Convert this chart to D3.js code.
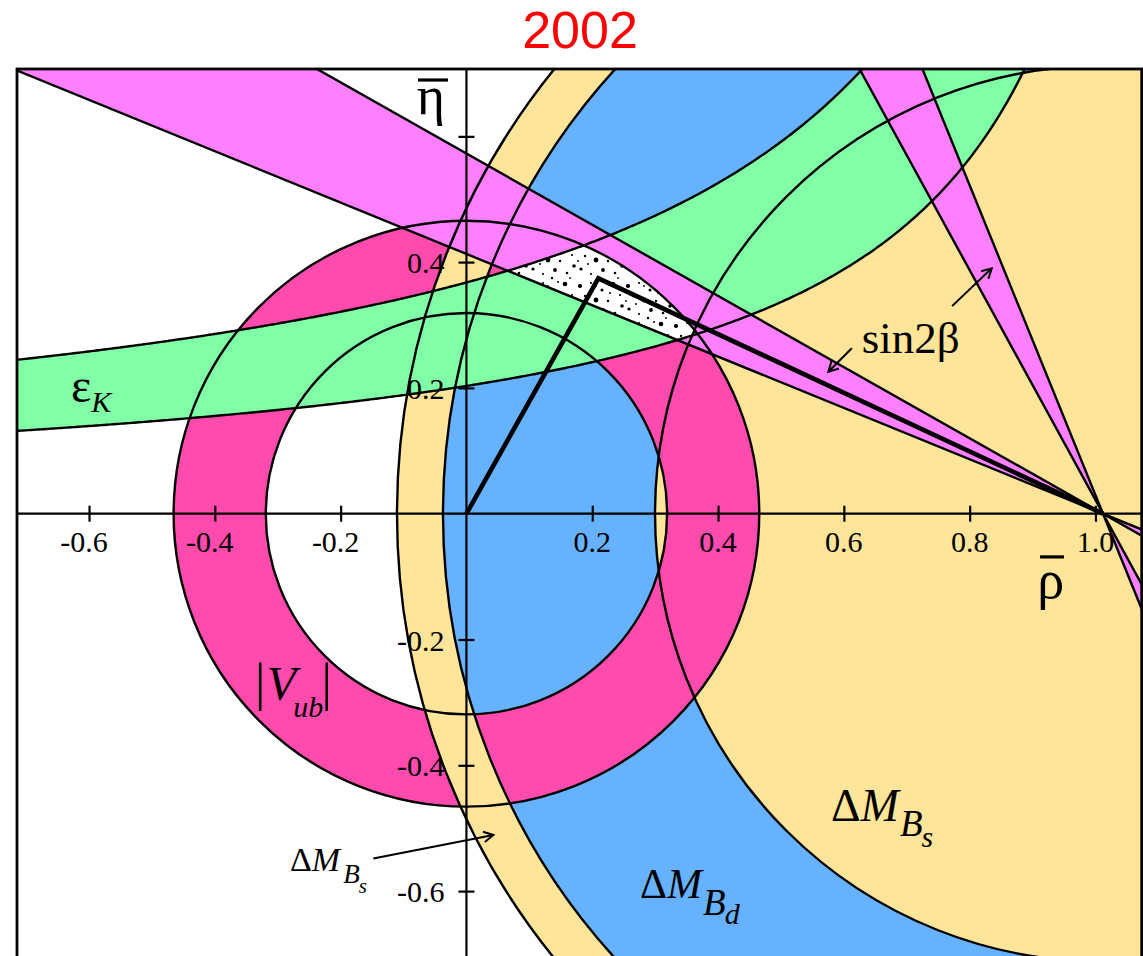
<!DOCTYPE html>
<html>
<head>
<meta charset="utf-8">
<script src="https://cdn.jsdelivr.net/npm/d3@7"></script>
<style>
  html, body { margin: 0; padding: 0; background: #fff; }
  svg { display: block; }
</style>
</head>
<body>
<svg id="chart" width="1143" height="956"></svg>
<script>
// ---- Constraints in the (rho-bar, eta-bar) plane ----
const title = "2002";
const xTicks = [-0.6, -0.4, -0.2, 0.2, 0.4, 0.6, 0.8, 1.0];
const xTickLabels = ["-0.6", "-0.4", "-0.2", "0.2", "0.4", "0.6", "0.8", "1.0"];
const yTicks = [-0.6, -0.4, -0.2, 0.2, 0.4, 0.6];
const yTickLabels = ["-0.6", "-0.4", "-0.2", "0.2", "0.4", ""];

const apex = [1.012, 0];              // the (1,0) corner where the Rt circles are centred
const vubRadii = [0.319, 0.4655];     // |Vub/Vcb| annulus around (0,0)
const dmdRadii = [0.7122, 1.0493];    // Delta M_Bd annulus around the apex
const dmsRadius = [1.1224];           // Delta M_Bs bound around the apex
const sin2bShallowDeg = [22.2, 29.5]; // sin2beta wedge, small-beta solution
const sin2bSteepDeg = [61.3, 67.9];   // sin2beta wedge, large-beta solution
// eps_K band edges: eta = c + k / (a - rho), given as [c, k, a]
const epsKLower = [0.0086, 0.2393, 1.23];
const epsKUpper = [0.0278, 0.4282, 1.26];
const triangle = [[0, 0], [0.2097, 0.3742], [1.012, 0]];

const xExtent = [-0.7145, 1.0735];
const yExtent = [-0.7135, 0.707];

// ---- Layout ----
const colors = {
  dms: "#FFE599", dmd: "#66B2FF", vub: "#FF4AAE",
  eps: "#80FFA6", s2b: "#FF80FF"
};
const serif = "'Liberation Serif', 'Times New Roman', serif";

const svg = d3.select("#chart");
const x = d3.scaleLinear().domain(xExtent).range([17, 1141.7]);
const y = d3.scaleLinear().domain(yExtent).range([962.5, 69]);
const pxPerUnit = x(1) - x(0);

const defs = svg.append("defs");

function circlePath(c, r) {
  const p = d3.path();
  const cx = x(c[0]), cy = y(c[1]), rr = r * pxPerUnit;
  p.moveTo(cx + rr, cy);
  p.arc(cx, cy, rr, 0, 2 * Math.PI);
  p.closePath();
  return p.toString();
}
function ringPath(c, r0, r1) {
  return circlePath(c, r1) + circlePath(c, r0);
}

const lineGen = d3.line().x(d => x(d[0])).y(d => y(d[1]));

function hyperbola(p) {
  const pts = [];
  for (let r = xExtent[0] - 0.05; r < p[2] - 0.005; r += 0.004) {
    const e = p[0] + p[1] / (p[2] - r);
    pts.push([r, e]);
    if (e > yExtent[1] + 0.08) break;
  }
  return pts;
}
const epsUpperPts = hyperbola(epsKUpper);
const epsLowerPts = hyperbola(epsKLower);
const epsBand = epsUpperPts.concat(epsLowerPts.slice().reverse());

const L = 4;
function dir(deg) {
  const t = deg * Math.PI / 180;
  return [-Math.cos(t), Math.sin(t)];
}
function wedgeCones(angles) {
  const d1 = dir(angles[0]), d2 = dir(angles[1]);
  const up = [apex, [apex[0] + L * d1[0], apex[1] + L * d1[1]], [apex[0] + L * d2[0], apex[1] + L * d2[1]]];
  const down = [apex, [apex[0] - L * d1[0], apex[1] - L * d1[1]], [apex[0] - L * d2[0], apex[1] - L * d2[1]]];
  return [up, down];
}
function fullLine(deg) {
  const d = dir(deg);
  return [[apex[0] - L * d[0], apex[1] - L * d[1]], [apex[0] + L * d[0], apex[1] + L * d[1]]];
}
const polyPath = pts => lineGen(pts) + "Z";

// clip paths
const frameW = x(xExtent[1]) - x(xExtent[0]);
const frameH = y(yExtent[0]) - y(yExtent[1]);
defs.append("clipPath").attr("id", "clipFrame")
  .append("rect").attr("x", x(xExtent[0])).attr("y", y(yExtent[1]))
  .attr("width", frameW).attr("height", frameH);
defs.append("clipPath").attr("id", "clipEps")
  .append("path").attr("d", polyPath(epsBand));
defs.append("clipPath").attr("id", "clipWedge")
  .append("path").attr("d", polyPath(wedgeCones(sin2bShallowDeg)[0]));
defs.append("clipPath").attr("id", "clipVub")
  .append("path").attr("clip-rule", "evenodd").attr("d", ringPath([0, 0], vubRadii[0], vubRadii[1]));
defs.append("clipPath").attr("id", "clipDmd")
  .append("path").attr("clip-rule", "evenodd").attr("d", ringPath(apex, dmdRadii[0], dmdRadii[1]));

// stipple for the region allowed by every constraint
const dots = [[4, 6, 2.1], [15, 3, 1.1], [26, 10, 1.5], [37, 4, 2.3], [44, 15, 1.1], [9, 16, 1.2],
  [20, 20, 2.4], [32, 21, 1.2], [5, 29, 1.6], [15, 34, 1.1], [27, 30, 1.9], [39, 33, 1.3],
  [46, 26, 1.8], [12, 24, 1.0], [34, 13, 1.0], [24, 38, 1.2], [20, 6, 0.9], [42, 38, 0.9],
  [30, 2, 1.0], [2, 21, 0.9]];
const pat = defs.append("pattern").attr("id", "dots").attr("patternUnits", "userSpaceOnUse")
  .attr("width", 48).attr("height", 40);
pat.selectAll("circle").data(dots).join("circle")
  .attr("cx", d => d[0]).attr("cy", d => d[1]).attr("r", d => d[2]).attr("fill", "#000");

// ---- Filled regions ----
const fills = svg.append("g").attr("clip-path", "url(#clipFrame)");
fills.append("path").attr("d", circlePath(apex, dmsRadius[0])).attr("fill", colors.dms);
fills.append("path").attr("d", ringPath(apex, dmdRadii[0], dmdRadii[1]))
  .attr("fill-rule", "evenodd").attr("fill", colors.dmd);
fills.append("path").attr("d", ringPath([0, 0], vubRadii[0], vubRadii[1]))
  .attr("fill-rule", "evenodd").attr("fill", colors.vub);
fills.append("path").attr("d", ringPath(apex, dmdRadii[1], dmsRadius[0]))
  .attr("fill-rule", "evenodd").attr("fill", colors.dms);
fills.append("path").attr("d", polyPath(epsBand)).attr("fill", colors.eps);
[sin2bShallowDeg, sin2bSteepDeg].forEach(a => {
  wedgeCones(a).forEach(poly => {
    fills.append("path").attr("d", polyPath(poly)).attr("fill", colors.s2b);
  });
});

let allowed = svg.append("g").attr("clip-path", "url(#clipFrame)");
["clipEps", "clipWedge", "clipVub", "clipDmd"].forEach(id => {
  allowed = allowed.append("g").attr("clip-path", `url(#${id})`);
});
allowed.append("rect").attr("x", x(xExtent[0])).attr("y", y(yExtent[1]))
  .attr("width", frameW).attr("height", frameH).attr("fill", "#fff");
allowed.append("rect").attr("x", x(xExtent[0])).attr("y", y(yExtent[1]))
  .attr("width", frameW).attr("height", frameH).attr("fill", "url(#dots)");

// ---- Boundary curves ----
const edges = svg.append("g").attr("clip-path", "url(#clipFrame)")
  .attr("fill", "none").attr("stroke", "#000").attr("stroke-width", 2.4);
[[[0, 0], vubRadii[0]], [[0, 0], vubRadii[1]], [apex, dmdRadii[0]], [apex, dmdRadii[1]], [apex, dmsRadius[0]]]
  .forEach(c => edges.append("path").attr("d", circlePath(c[0], c[1])));
edges.append("path").attr("d", lineGen(epsUpperPts));
edges.append("path").attr("d", lineGen(epsLowerPts));
sin2bShallowDeg.concat(sin2bSteepDeg).forEach(a => edges.append("path").attr("d", lineGen(fullLine(a))));

// ---- Axes ----
const axes = svg.append("g").attr("clip-path", "url(#clipFrame)");
axes.append("line").attr("x1", x(xExtent[0])).attr("x2", x(xExtent[1]))
  .attr("y1", y(0)).attr("y2", y(0)).attr("stroke", "#000").attr("stroke-width", 2.2);
axes.append("line").attr("x1", x(0)).attr("x2", x(0))
  .attr("y1", y(yExtent[1])).attr("y2", y(yExtent[0])).attr("stroke", "#000").attr("stroke-width", 2.2);

function tickAxis(gen, transform) {
  const g = axes.append("g").attr("transform", transform).call(gen);
  g.select(".domain").remove();
  g.selectAll(".tick line").attr("stroke-width", 2.2);
  g.selectAll(".tick text").remove();
}
tickAxis(d3.axisBottom(x).tickValues(xTicks).tickSize(8).tickFormat(""), `translate(0,${y(0)})`);
tickAxis(d3.axisTop(x).tickValues(xTicks).tickSize(8).tickFormat(""), `translate(0,${y(0)})`);
tickAxis(d3.axisLeft(y).tickValues(yTicks).tickSize(8).tickFormat(""), `translate(${x(0)},0)`);
tickAxis(d3.axisRight(y).tickValues(yTicks).tickSize(8).tickFormat(""), `translate(${x(0)},0)`);

const tickFont = 30;
svg.append("g").selectAll("text").data(xTicks).join("text")
  .attr("x", d => x(d)).attr("y", y(0) + 38)
  .attr("dx", (d, i) => xTickLabels[i].startsWith("-") ? -5 : 0)
  .attr("text-anchor", "middle").attr("font-family", serif).attr("font-size", tickFont)
  .text((d, i) => xTickLabels[i]);
svg.append("g").selectAll("text").data(yTicks).join("text")
  .attr("x", x(0) - 22).attr("y", d => y(d) + 11)
  .attr("text-anchor", "end").attr("font-family", serif).attr("font-size", tickFont)
  .text((d, i) => yTickLabels[i]);

// ---- Unitarity triangle ----
svg.append("path").attr("d", lineGen(triangle)).attr("fill", "none")
  .attr("stroke", "#000").attr("stroke-width", 4.6).attr("stroke-linejoin", "miter");

// ---- Frame ----
svg.append("rect").attr("x", x(xExtent[0])).attr("y", y(yExtent[1]))
  .attr("width", frameW).attr("height", frameH)
  .attr("fill", "none").attr("stroke", "#000").attr("stroke-width", 2.8);

// ---- Title ----
svg.append("text").attr("x", 580).attr("y", 48).attr("text-anchor", "middle")
  .attr("font-family", "'Liberation Sans', Arial, sans-serif").attr("font-size", 52)
  .attr("fill", "#FF0000").text(title);

// ---- Axis names ----
const ann = svg.append("g").attr("font-family", serif).attr("fill", "#000");
ann.append("text").attr("x", x(-0.079)).attr("y", y(0.6355)).attr("font-size", 54).text("η");
ann.append("line").attr("x1", x(-0.077)).attr("x2", x(-0.0293)).attr("y1", y(0.6895)).attr("y2", y(0.6895))
  .attr("stroke", "#000").attr("stroke-width", 3.2);
ann.append("text").attr("x", x(0.9075)).attr("y", y(-0.134)).attr("font-size", 54).text("ρ");
ann.append("line").attr("x1", x(0.9119)).attr("x2", x(0.950)).attr("y1", y(-0.0687)).attr("y2", y(-0.0687))
  .attr("stroke", "#000").attr("stroke-width", 3.2);

// ---- Band labels ----
const eps = ann.append("text").attr("x", x(-0.6286)).attr("y", y(0.1776)).attr("font-size", 48);
eps.append("tspan").text("ε");
eps.append("tspan").attr("font-style", "italic").attr("font-size", 30).attr("dy", 10).text("K");

ann.append("text").attr("x", x(0.6284)).attr("y", y(0.255)).attr("font-size", 45).text("sin2β");

// |V_ub| : bars, V and subscript placed as separate pieces
ann.append("text").attr("x", x(-0.3361)).attr("y", y(-0.2954)).attr("font-size", 52).text("|");
ann.append("text").attr("x", x(-0.3175)).attr("y", y(-0.2962)).attr("font-size", 48)
  .attr("font-style", "italic").text("V");
ann.append("text").attr("x", x(-0.2755)).attr("y", y(-0.3227)).attr("font-size", 30)
  .attr("font-style", "italic").text("ub");
ann.append("text").attr("x", x(-0.2305)).attr("y", y(-0.2954)).attr("font-size", 52).text("|");

function deltaM(pos, sizes, sub, shifts) {
  const t = ann.append("text").attr("x", x(pos[0])).attr("y", y(pos[1])).attr("font-size", sizes[0]);
  t.append("tspan").text("Δ");
  t.append("tspan").attr("font-style", "italic").text("M");
  t.append("tspan").attr("font-style", "italic").attr("font-size", sizes[1])
    .attr("dx", shifts[0]).attr("dy", shifts[1]).text("B");
  t.append("tspan").attr("font-style", "italic").attr("font-size", sizes[2])
    .attr("dx", shifts[2]).attr("dy", shifts[3]).text(sub);
}
deltaM([0.5795, -0.4885], [46, 37, 30], "s", [1, 15, -1, 11]);
deltaM([0.2760, -0.6111], [42, 37, 30], "d", [1, 16.7, -1, 9.3]);
deltaM([-0.2805, -0.5676], [34, 27, 21], "s", [3, 12.6, -1, 10]);

// ---- Arrows ----
const arrows = [
  [[-0.148, -0.548], [0.0428, -0.5108]],
  [[0.6126, 0.263], [0.5754, 0.2258]],
  [[0.772, 0.330], [0.8351, 0.3901]]
];
const arr = svg.append("g").attr("stroke", "#000").attr("stroke-width", 2).attr("fill", "none");
arrows.forEach(a => {
  const x0 = x(a[0][0]), y0 = y(a[0][1]), x1 = x(a[1][0]), y1 = y(a[1][1]);
  arr.append("line").attr("x1", x0).attr("y1", y0).attr("x2", x1).attr("y2", y1);
  const ang = Math.atan2(y1 - y0, x1 - x0), h = 11, w = 0.5;
  const p = [[x1 - h * Math.cos(ang - w), y1 - h * Math.sin(ang - w)], [x1, y1],
             [x1 - h * Math.cos(ang + w), y1 - h * Math.sin(ang + w)]];
  arr.append("path").attr("d", d3.line()(p));
});
</script>
</body>
</html>
